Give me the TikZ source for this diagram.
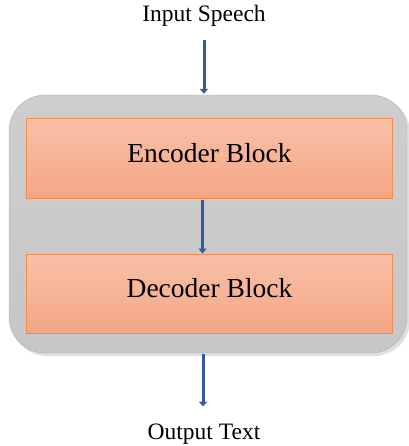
\documentclass[tikz,border=0pt]{standalone}
\usepackage{fontspec}
\setmainfont{Liberation Serif}
\usetikzlibrary{arrows.meta,positioning}
\definecolor{boxgray}{RGB}{206,206,206}
\definecolor{boxgraydark}{RGB}{198,198,198}
\definecolor{edgegray}{RGB}{180,180,180}
\definecolor{peachtop}{RGB}{248,192,168}
\definecolor{peachbottom}{RGB}{245,166,132}
\definecolor{peachedge}{RGB}{240,140,80}
\definecolor{flowblue}{RGB}{52,90,160}

\begin{document}
\begin{tikzpicture}[x=1pt,y=-1pt,
    block/.style={draw=peachedge,line width=1pt,top color=peachtop,bottom color=peachbottom,
        minimum width=366pt,minimum height=79pt,inner sep=0pt,font=\fontsize{27.5}{30}\selectfont},
    flow/.style={draw=flowblue,line width=3pt,-{Triangle[length=5pt,width=8pt]}},
    caption/.style={font=\fontsize{23.5}{26}\selectfont,inner sep=0pt}]
        \useasboundingbox (0,0) rectangle (408,446);
        % container
        \fill[black!25,opacity=0.5,rounded corners=36pt] (11,97) rectangle (410,356);
        \node[draw=edgegray,top color=boxgray,bottom color=boxgraydark,rounded corners=36pt,
            minimum width=398pt,minimum height=258pt,inner sep=0pt] (model) at (208,224) {};
        % blocks
        \node[block] (encoder) at (209.5,158.5) {\raisebox{11pt}{Encoder Block}};
        \node[block] (decoder) at (209.5,293.5) {\raisebox{11pt}{Decoder Block}};
        % labels
        \node[caption] (speech) at (204,16) {Input Speech};
        \node[caption] (text) at (204,434) {Output Text};
        % arrows
        \draw[flow,shorten <=13pt,shorten >=1pt] (speech.south) -- (speech.south |- model.north);
        \draw[flow,shorten <=1pt] (encoder.south) ++(-7pt,0) coordinate (encout) -- (encout |- decoder.north);
        \draw[flow,shorten <=1pt,shorten >=17pt] (text.north |- model.south) ++(-1pt,0) coordinate (modout) -- (modout |- text.north);
    \end{tikzpicture}
\end{document}
